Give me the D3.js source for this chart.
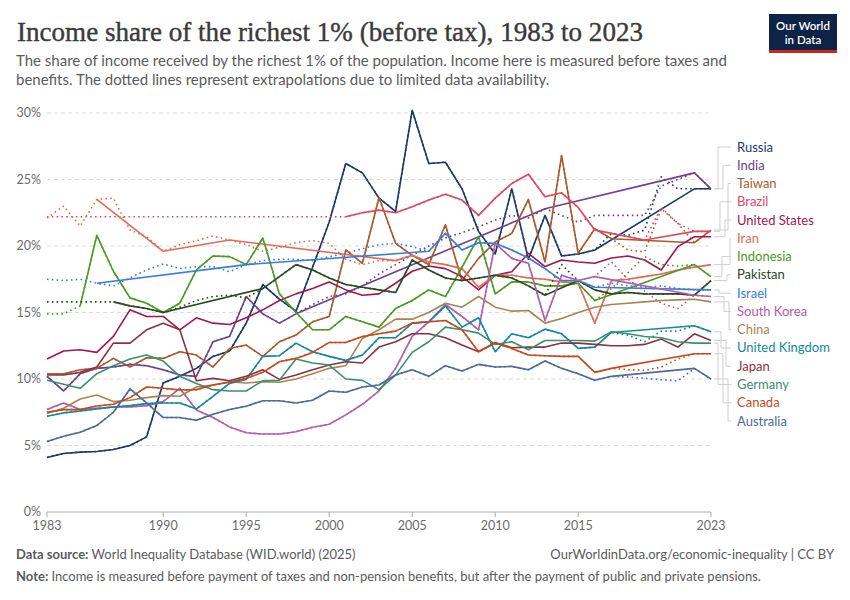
<!DOCTYPE html>
<html>
<head>
<meta charset="utf-8">
<script src="https://cdn.jsdelivr.net/npm/d3@7"></script>
<style>
  body { margin: 0; background: #fff; }
  text { font-family: Lato, "Noto Sans", sans-serif; }
</style>
</head>
<body>
<svg id="chart" width="850" height="600"></svg>
<script>
// ---- data (share of income, %) ----
const years = d3.range(1983, 2024);
const xTicks = [1983, 1990, 1995, 2000, 2005, 2010, 2015, 2023];
const yTicks = [0, 5, 10, 15, 20, 25, 30];

const countries = ["Russia", "India", "Taiwan", "Brazil", "United States", "Iran", "Indonesia", "Pakistan",
  "Israel", "South Korea", "China", "United Kingdom", "Japan", "Germany", "Canada", "Australia"];

const russia = [4.1,4.4,4.5,4.55,4.7,5.0,5.65,9.7,10.2,10.8, 11.7,12.1,14.2,17.1,16.0,15.1,18.4,21.8,26.2,25.5,
  23.6,22.6,30.2,26.2,26.3,24.3,21.1,19.4,24.3,19.0, 22.3,19.25,19.4,19.7,20.95,20.8,21.2,25.2,24.3,24.3,24.3];
const india = [10.2,9.1,10.4,10.8,10.9,11.1,11.0,10.7,10.3,10.2, 12.8,13.2,16.2,14.9,14.2,14.9,15.6,16.2,16.4,17.0,
  17.9,18.6,19.3,20.0,20.6,21.0,21.45,21.95,22.3,22.1, 22.8,22.3,21.8,22.3,22.3,22.3,22.3,24.5,25.0,25.5,24.3];
const taiwan = [10.4,10.4,10.7,10.8,11.55,10.9,11.6,11.55,12.05,11.8, 10.9,12.3,12.55,11.7,12.8,13.3,14.3,14.7,19.7,18.7,
  23.65,20.2,19.3,18.6,21.6,17.4,19.07,20.3,20.95,23.5, 18.8,26.8,19.45,21.3,20.55,19.7,19.57,22.8,21.7,20.25,21.2];
const brazil = [22.2,22.2,22.2,22.2,22.2,22.2,22.2,22.2,22.2,22.2, 22.2,22.2,22.2,22.2,22.2,22.2,22.2,22.2,22.2,22.5,
  22.7,22.5,22.95,23.45,23.9,23.45,22.3,23.6,24.7,25.4, 23.7,24.0,22.9,21.2,20.95,20.7,20.45,22.9,21.7,21.1,21.1];
const unitedStates = [11.5,12.1,12.2,12.0,13.2,15.2,14.7,14.7,13.7,14.6, 14.2,14.1,14.6,15.2,15.9,16.4,16.8,17.3,16.7,16.3,
  16.4,17.2,18.1,18.5,18.3,17.7,16.7,17.8,18.07,19.45, 18.45,18.95,18.8,18.7,19.1,19.25,18.95,18.2,19.95,20.7,20.7];
const iran = [22.1,23.0,21.5,23.5,23.6,21.2,20.7,19.6,20.1,20.4, 20.75,20.45,20.1,19.6,19.9,20.25,20.4,20.2,19.0,18.6,
  18.9,18.9,19.3,18.8,18.6,18.3,16.9,17.8,17.8,17.6, 17.5,17.3,17.2,14.2,17.4,17.5,17.7,17.9,18.2,18.4,18.6];
const indonesia = [14.9,14.9,15.5,20.8,18.1,16.1,15.7,15.0,15.7,18.2, 19.25,19.2,18.6,20.6,16.4,15.0,13.7,13.7,14.7,14.3,
  13.9,15.3,15.9,16.7,16.2,18.4,20.7,16.4,17.3,17.3, 17.0,17.0,17.2,15.9,16.8,18.0,19.2,18.6,18.5,18.6,17.7];
const pakistan = [15.8,15.8,15.8,15.8,15.8,15.5,15.3,15.0,15.4,15.9, 16.2,16.3,16.1,16.8,17.7,18.6,18.2,17.6,17.1,16.9,
  16.7,16.5,18.95,18.2,17.6,17.4,17.6,17.8,17.6,17.0, 16.3,18.6,17.4,16.7,16.4,16.5,16.4,16.4,16.4,16.3,17.4];
const israel = [17.5,17.4,17.5,17.2,17.0,17.6,18.2,18.65,18.3,18.45, 18.45,18.07,18.6,18.9,19.0,19.0,18.9,19.2,19.45,19.8,
  20.1,20.2,19.95,19.6,20.95,19.7,20.25,20.2,19.7,19.1, 18.3,17.4,17.4,16.9,17.2,17.0,16.9,17.0,16.8,16.7,16.7];
const southKorea = [7.7,8.2,7.7,7.8,7.9,7.9,8.0,8.3,9.3,7.67, 7.1,6.4,5.96,5.86,5.86,6.04,6.37,6.6,7.3,8.1,
  9.1,10.8,13.2,14.3,15.6,14.7,13.7,20.2,19.07,18.7, 14.4,17.8,17.4,17.7,18.8,17.5,16.6,15.7,15.3,16.3,16.2];
const china = [7.4,7.8,8.5,8.8,8.3,8.4,8.6,8.75,8.7,9.4, 9.55,9.8,9.7,9.8,9.75,10.0,10.4,10.8,11.0,13.05,
  13.7,14.5,14.5,15.0,15.7,15.4,16.2,15.4,15.1,15.15, 14.2,14.55,15.0,15.4,15.6,15.7,15.8,15.9,15.95,16.0,15.8];
const unitedKingdom = [7.2,7.45,7.6,7.75,7.9,8.0,8.15,8.2,8.2,7.75, 8.7,9.67,9.97,11.7,11.75,12.7,12.05,11.7,11.4,11.8,
  13.1,13.1,14.2,14.3,15.5,13.9,14.6,12.05,13.4,13.1, 13.75,13.4,12.3,12.4,13.5,13.3,12.8,13.6,13.6,14.0,13.55];
const japan = [10.3,10.3,10.5,10.9,12.7,12.7,13.7,14.2,13.7,9.87, 10.05,9.87,10.2,10.7,9.97,10.3,10.7,11.05,11.3,11.2,
  12.4,12.8,13.4,13.4,13.1,12.55,12.05,12.75,12.35,12.4, 12.4,12.7,12.7,12.6,12.5,12.5,12.6,13.0,12.4,13.4,12.9];
const germany = [9.9,9.6,9.3,10.4,11.0,11.5,11.8,11.35,10.2,9.67, 9.2,9.1,9.1,9.87,9.9,11.5,11.2,11.05,10.0,9.9,
  9.2,10.3,12.0,12.8,13.9,13.7,13.45,12.6,12.8,12.2, 12.9,12.9,12.9,12.85,13.55,13.4,13.2,13.1,12.8,12.7,12.7];
const canada = [7.5,7.7,7.7,7.97,8.1,8.6,9.4,9.3,9.17,9.2, 9.55,9.75,10.05,10.5,11.3,11.55,12.0,12.75,12.75,13.2,
  13.4,13.6,14.2,14.3,14.4,13.7,12.05,12.7,12.3,11.8, 11.75,11.7,11.7,10.5,10.8,10.7,10.65,10.9,11.5,11.9,11.9];
const australia = [5.3,5.7,6.0,6.5,7.5,9.25,8.2,7.1,7.1,6.9, 7.35,7.7,7.95,8.37,8.37,8.2,8.4,9.1,9.0,9.4,
  9.55,10.3,10.7,10.2,11.0,10.6,11.1,10.9,10.95,10.7, 11.35,10.8,10.4,9.9,10.2,10.15,10.05,9.95,9.85,10.8,10.0];

// years with actual observations (solid); other years are extrapolated (dotted)
const solidYears = [
  [[1983, 2016], [2022, 2023]],               // Russia
  [[1983, 1998], [2013, 2013], [2022, 2023]], // India
  [[1983, 2017], [2022, 2023]],               // Taiwan
  [[2001, 2019], [2022, 2023]],               // Brazil
  [[1983, 2023]],                             // United States
  [[1986, 1986], [1990, 1990], [1994, 1994], [2004, 2023]], // Iran
  [[1985, 2016], [2022, 2023]],               // Indonesia
  [[1987, 1990], [1996, 1996], [1998, 2013], [2015, 2023]], // Pakistan
  [[1986, 1986], [1995, 1995], [2006, 2016], [2023, 2023]], // Israel
  [[1983, 2016], [2022, 2023]],               // South Korea
  [[1983, 2023]],                             // China
  [[1983, 2017], [2022, 2023]],               // United Kingdom
  [[1983, 2023]],                             // Japan
  [[1983, 2023]],                             // Germany
  [[1983, 2017], [2022, 2023]],               // Canada
  [[1983, 2017], [2022, 2023]]                // Australia
];

const seriesValues = [russia, india, taiwan, brazil, unitedStates, iran, indonesia, pakistan,
  israel, southKorea, china, unitedKingdom, japan, germany, canada, australia];

const colors = ["#18396c", "#6d3e91", "#a85a2c", "#e0495e", "#a3164f", "#e26c55", "#4b9b20", "#274a1e",
  "#3a7dd8", "#b55bb3", "#a8844e", "#128a9c", "#8e3041", "#36916c", "#c64a1c", "#4c6a9c"];

// ---- layout ----
const svg = d3.select("#chart");
const margin = { left: 47, right: 711, top: 113, bottom: 512 };

const x = d3.scaleLinear().domain([1983, 2023]).range([margin.left, margin.right]);
const y = d3.scaleLinear().domain([0, 30]).range([margin.bottom, margin.top]);

// title + subtitle
svg.append("text")
  .attr("x", 17).attr("y", 41)
  .attr("textLength", 626).attr("lengthAdjust", "spacingAndGlyphs")
  .style("font-family", "'Liberation Serif', 'DejaVu Serif', serif")
  .style("font-size", "27px").style("fill", "#3a3a3a")
  .style("stroke", "#3a3a3a").style("stroke-width", 0.4)
  .text("Income share of the richest 1% (before tax), 1983 to 2023");

const sub = ["The share of income received by the richest 1% of the population. Income here is measured before taxes and",
  "benefits. The dotted lines represent extrapolations due to limited data availability."];
sub.forEach((s, i) => {
  svg.append("text").attr("x", 16).attr("y", 66 + i * 19)
    .style("font-size", "15px").style("fill", "#5b5b5b").text(s);
});

// logo
const logo = svg.append("g").attr("transform", "translate(769,14)");
logo.append("rect").attr("width", 68).attr("height", 39).attr("fill", "#0f2347");
logo.append("rect").attr("y", 36).attr("width", 68).attr("height", 3).attr("fill", "#ce261e");
logo.append("text").attr("x", 34).attr("y", 16).attr("text-anchor", "middle")
  .style("font-size", "11.5px").style("fill", "#fff").style("font-weight", 600).text("Our World");
logo.append("text").attr("x", 34).attr("y", 30).attr("text-anchor", "middle")
  .style("font-size", "11.5px").style("fill", "#fff").style("font-weight", 600).text("in Data");

// gridlines + y labels
const yAxis = svg.append("g");
yAxis.selectAll("line").data(yTicks.filter(d => d > 0)).join("line")
  .attr("x1", margin.left).attr("x2", margin.right)
  .attr("y1", d => y(d)).attr("y2", d => y(d))
  .attr("stroke", "#dcdcdc").attr("stroke-dasharray", "4,3");
yAxis.selectAll("text").data(yTicks).join("text")
  .attr("x", 41).attr("y", d => y(d) + 4).attr("text-anchor", "end")
  .style("font-size", "12.5px").style("fill", "#6b6b6b")
  .text(d => d + "%");

// x axis
svg.append("line").attr("x1", margin.left).attr("x2", margin.right)
  .attr("y1", y(0)).attr("y2", y(0)).attr("stroke", "#a9a9a9");
const xAxis = svg.append("g");
xAxis.selectAll("line").data(xTicks).join("line")
  .attr("x1", d => x(d)).attr("x2", d => x(d))
  .attr("y1", y(0)).attr("y2", y(0) + 5).attr("stroke", "#a9a9a9");
xAxis.selectAll("text").data(xTicks).join("text")
  .attr("x", d => x(d)).attr("y", 530).attr("text-anchor", "middle")
  .style("font-size", "12.5px").style("fill", "#6b6b6b").text(d => d);

// ---- lines ----
const line = d3.line().x(d => x(d[0])).y(d => y(d[1]));
const plot = svg.append("g").attr("fill", "none").attr("stroke-linejoin", "round");

seriesValues.forEach((vals, i) => {
  const pts = years.map((yr, k) => [yr, vals[k]]);
  const isSolid = yr => solidYears[i].some(r => yr >= r[0] && yr <= r[1]);
  const solidPts = pts.filter(p => isSolid(p[0]));
  if (solidPts.length < pts.length) {
    plot.append("path").datum(pts)
      .attr("d", line).attr("stroke", colors[i])
      .attr("stroke-width", 1.6).attr("stroke-dasharray", "1.6,3.2");
  }
  plot.append("path").datum(solidPts)
    .attr("d", line).attr("stroke", colors[i]).attr("stroke-width", 1.6);
});

// ---- labels with connectors ----
const legend = svg.append("g");
countries.forEach((name, i) => {
  const vals = seriesValues[i];
  const yEnd = y(vals[vals.length - 1]);
  const yLab = 147 + i * 18.27;
  const xm = 718 + ((i * 5) % 13);
  legend.append("path")
    .attr("d", `M${margin.right + 3},${yEnd}H${xm}V${yLab}H${731}`)
    .attr("fill", "none").attr("stroke", "#cfcfcf").attr("stroke-width", 1);
  legend.append("text").attr("x", 737).attr("y", yLab + 4.5)
    .style("font-size", "13px").style("fill", colors[i]).text(name);
});

// ---- footer ----
const f1 = svg.append("text").attr("x", 16).attr("y", 559).style("font-size", "13px").style("fill", "#5b5b5b");
f1.append("tspan").style("font-weight", 700).text("Data source: ");
f1.append("tspan").text("World Inequality Database (WID.world) (2025)");
svg.append("text").attr("x", 834).attr("y", 559).attr("text-anchor", "end")
  .style("font-size", "13px").style("fill", "#5b5b5b")
  .text("OurWorldinData.org/economic-inequality | CC BY");
const f2 = svg.append("text").attr("x", 16).attr("y", 581).style("font-size", "13px").style("fill", "#5b5b5b");
f2.append("tspan").style("font-weight", 700).text("Note: ");
f2.append("tspan").text("Income is measured before payment of taxes and non-pension benefits, but after the payment of public and private pensions.");
</script>
</body>
</html>
